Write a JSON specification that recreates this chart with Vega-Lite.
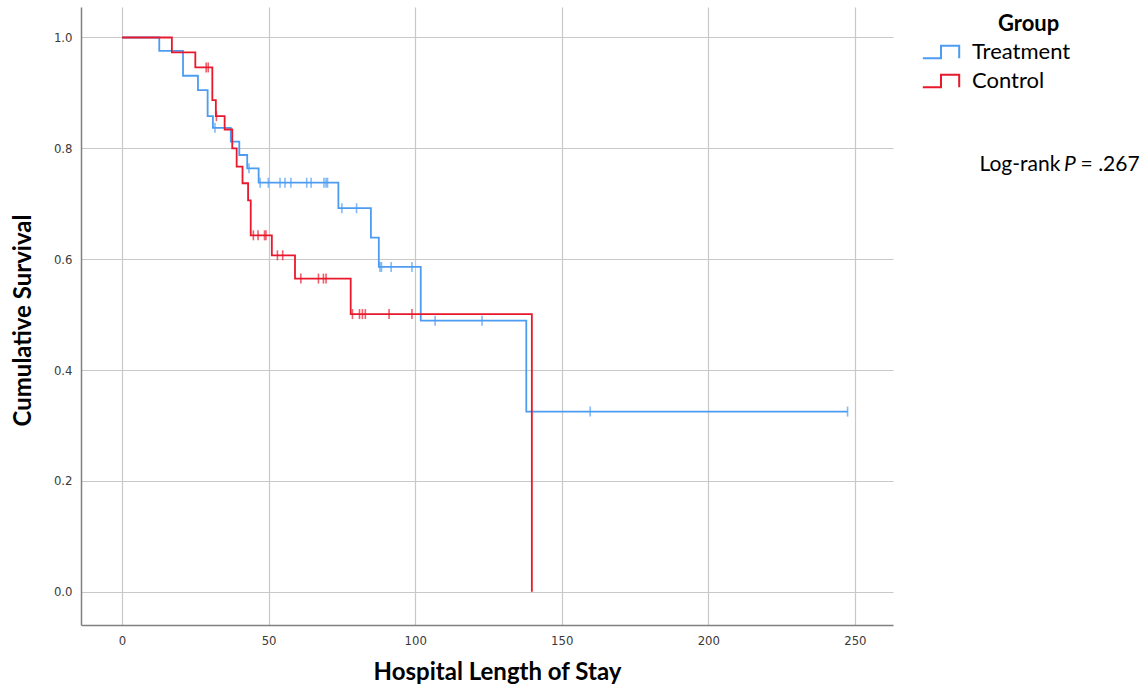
{
  "$schema": "https://vega.github.io/schema/vega-lite/v6.json",
  "autosize": {"type": "none"},
  "padding": {"left": 81, "top": 7, "right": 251, "bottom": 65},
  "width": 812,
  "height": 618,
  "background": "white",
  "config": {
    "view": {"stroke": null},
    "axis": {
      "domainColor": "#808080",
      "domainWidth": 1.5,
      "gridColor": "#c8c8c8",
      "gridWidth": 1.2,
      "ticks": false,
      "labelFont": "DejaVu Sans Condensed, Liberation Sans, sans-serif",
      "labelFontSize": 13,
      "labelColor": "#3a3a3a",
      "titleFont": "Lato",
      "titleFontSize": 24,
      "titleFontWeight": "bold",
      "titleColor": "#000000"
    },
    "legend": {
      "titleFont": "Lato",
      "labelFont": "Lato"
    }
  },
  "datasets": {
    "curve": [
      {"group": "Treatment", "time": 0, "surv": 1},
      {"group": "Treatment", "time": 12.7, "surv": 0.976},
      {"group": "Treatment", "time": 20.8, "surv": 0.931},
      {"group": "Treatment", "time": 25.9, "surv": 0.905},
      {"group": "Treatment", "time": 29.2, "surv": 0.858},
      {"group": "Treatment", "time": 31.0, "surv": 0.837},
      {"group": "Treatment", "time": 37.1, "surv": 0.812},
      {"group": "Treatment", "time": 40.0, "surv": 0.788},
      {"group": "Treatment", "time": 42.7, "surv": 0.764},
      {"group": "Treatment", "time": 46.6, "surv": 0.738},
      {"group": "Treatment", "time": 73.8, "surv": 0.692},
      {"group": "Treatment", "time": 84.9, "surv": 0.639},
      {"group": "Treatment", "time": 87.6, "surv": 0.586},
      {"group": "Treatment", "time": 101.9, "surv": 0.489},
      {"group": "Treatment", "time": 137.9, "surv": 0.325},
      {"group": "Treatment", "time": 247.5, "surv": 0.325},
      {"group": "Control", "time": 0, "surv": 1},
      {"group": "Control", "time": 17.0, "surv": 0.973},
      {"group": "Control", "time": 25.0, "surv": 0.946},
      {"group": "Control", "time": 30.8, "surv": 0.887},
      {"group": "Control", "time": 32.0, "surv": 0.858},
      {"group": "Control", "time": 35.0, "surv": 0.834},
      {"group": "Control", "time": 37.6, "surv": 0.800},
      {"group": "Control", "time": 39.1, "surv": 0.767},
      {"group": "Control", "time": 41.1, "surv": 0.737},
      {"group": "Control", "time": 43.0, "surv": 0.706},
      {"group": "Control", "time": 43.9, "surv": 0.643},
      {"group": "Control", "time": 51.1, "surv": 0.607},
      {"group": "Control", "time": 59.0, "surv": 0.565},
      {"group": "Control", "time": 78.0, "surv": 0.501},
      {"group": "Control", "time": 139.8, "surv": 0}
    ],
    "censor": [
      {"group": "Treatment", "time": 31.7, "surv": 0.837},
      {"group": "Treatment", "time": 43.3, "surv": 0.764},
      {"group": "Treatment", "time": 47.1, "surv": 0.738},
      {"group": "Treatment", "time": 49.9, "surv": 0.738},
      {"group": "Treatment", "time": 53.9, "surv": 0.738},
      {"group": "Treatment", "time": 55.6, "surv": 0.738},
      {"group": "Treatment", "time": 57.6, "surv": 0.738},
      {"group": "Treatment", "time": 63.0, "surv": 0.738},
      {"group": "Treatment", "time": 64.5, "surv": 0.738},
      {"group": "Treatment", "time": 68.9, "surv": 0.738},
      {"group": "Treatment", "time": 69.6, "surv": 0.738},
      {"group": "Treatment", "time": 70.1, "surv": 0.738},
      {"group": "Treatment", "time": 75.0, "surv": 0.692},
      {"group": "Treatment", "time": 80.0, "surv": 0.692},
      {"group": "Treatment", "time": 88.0, "surv": 0.586},
      {"group": "Treatment", "time": 88.5, "surv": 0.586},
      {"group": "Treatment", "time": 91.8, "surv": 0.586},
      {"group": "Treatment", "time": 98.9, "surv": 0.586},
      {"group": "Treatment", "time": 106.8, "surv": 0.489},
      {"group": "Treatment", "time": 122.8, "surv": 0.489},
      {"group": "Treatment", "time": 159.7, "surv": 0.325},
      {"group": "Treatment", "time": 247.5, "surv": 0.325},
      {"group": "Control", "time": 28.7, "surv": 0.946},
      {"group": "Control", "time": 29.4, "surv": 0.946},
      {"group": "Control", "time": 32.2, "surv": 0.858},
      {"group": "Control", "time": 44.8, "surv": 0.643},
      {"group": "Control", "time": 46.4, "surv": 0.643},
      {"group": "Control", "time": 48.6, "surv": 0.643},
      {"group": "Control", "time": 49.1, "surv": 0.643},
      {"group": "Control", "time": 53.0, "surv": 0.607},
      {"group": "Control", "time": 54.8, "surv": 0.607},
      {"group": "Control", "time": 61.0, "surv": 0.565},
      {"group": "Control", "time": 67.0, "surv": 0.565},
      {"group": "Control", "time": 68.7, "surv": 0.565},
      {"group": "Control", "time": 69.6, "surv": 0.565},
      {"group": "Control", "time": 78.6, "surv": 0.501},
      {"group": "Control", "time": 81.0, "surv": 0.501},
      {"group": "Control", "time": 82.0, "surv": 0.501},
      {"group": "Control", "time": 83.0, "surv": 0.501},
      {"group": "Control", "time": 91.1, "surv": 0.501},
      {"group": "Control", "time": 98.9, "surv": 0.501}
    ]
  },
  "layer": [
    {
      "data": {"name": "curve"},
      "mark": {"type": "line", "interpolate": "step-after", "strokeWidth": 1.8},
      "encoding": {
        "x": {
          "field": "time", "type": "quantitative",
          "scale": {"domain": [-14, 263], "nice": false, "zero": false},
          "axis": {"title": "Hospital Length of Stay", "values": [0, 50, 100, 150, 200, 250], "labelPadding": 9, "titlePadding": 13, "titleX": 416}
        },
        "y": {
          "field": "surv", "type": "quantitative",
          "scale": {"domain": [-0.06, 1.055], "nice": false, "zero": false},
          "axis": {"title": "Cumulative Survival", "values": [0, 0.2, 0.4, 0.6, 0.8, 1.0], "format": ".1f", "labelPadding": 9, "titlePadding": 18, "titleY": 313}
        },
        "color": {
          "field": "group", "type": "nominal",
          "scale": {"domain": ["Treatment", "Control"], "range": ["#4d9cf2", "#e8192c"]},
          "legend": {
            "title": "Group",
            "orient": "none",
            "legendX": 845,
            "legendY": 7,
            "titleFontSize": 22,
            "titleFontWeight": "bold",
            "titleColor": "#000000",
            "titleAnchor": "middle",
            "titleAlign": "left",
            "titlePadding": 1,
            "labelFontSize": 22,
            "labelColor": "#000000",
            "labelOffset": 16,
            "symbolType": "M-1.3,0.45H0V-0.45H1.3V0.45",
            "symbolSize": 784,
            "symbolStrokeWidth": 2,
            "symbolFillColor": "transparent",
            "rowPadding": 3,
            "encode": {"symbols": {"update": {"fillOpacity": {"value": 0}, "strokeOpacity": {"value": 1}}}}
          }
        },
        "order": {"field": "time"}
      }
    },
    {
      "data": {"name": "censor"},
      "mark": {"type": "tick", "orient": "vertical", "size": 10, "thickness": 1.6},
      "encoding": {
        "x": {"field": "time", "type": "quantitative"},
        "y": {"field": "surv", "type": "quantitative"},
        "color": {"field": "group", "type": "nominal", "legend": null}
      }
    },
    {
      "data": {"values": [{}]},
      "mark": {"type": "text", "align": "left", "baseline": "middle", "font": "Lato", "fontSize": 21, "color": "#000000", "clip": false},
      "encoding": {"x": {"datum": 292.5}, "y": {"datum": 0.77}, "text": {"value": "Log-rank"}}
    },
    {
      "data": {"values": [{}]},
      "mark": {"type": "text", "align": "left", "baseline": "middle", "font": "Lato", "fontSize": 21, "fontStyle": "italic", "color": "#000000", "clip": false},
      "encoding": {"x": {"datum": 321.3}, "y": {"datum": 0.77}, "text": {"value": "P"}}
    },
    {
      "data": {"values": [{}]},
      "mark": {"type": "text", "align": "left", "baseline": "middle", "font": "Lato", "fontSize": 21, "color": "#000000", "clip": false},
      "encoding": {"x": {"datum": 327.0}, "y": {"datum": 0.77}, "text": {"value": "= .267"}}
    }
  ]
}
